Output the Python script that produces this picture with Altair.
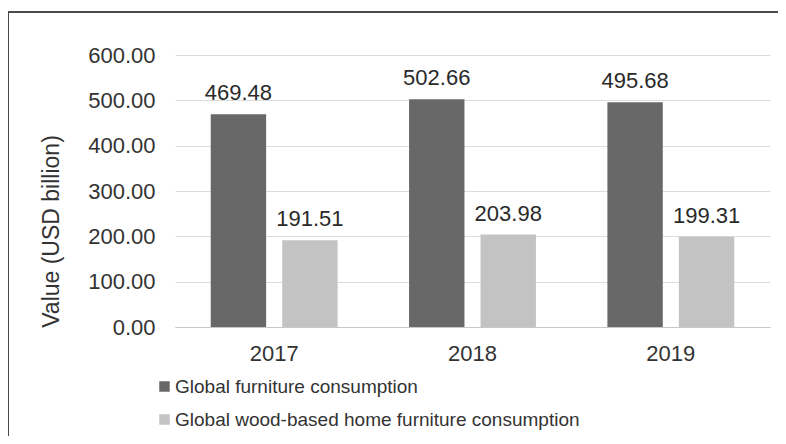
import altair as alt
import pandas as pd

years = ["2017", "2018", "2019"]
series = ["Global furniture consumption", "Global wood-based home furniture consumption"]
furniture = [469.48, 502.66, 495.68]
wood_based = [191.51, 203.98, 199.31]
y_ticks = [0, 100, 200, 300, 400, 500, 600]

rows = []
for i, yr in enumerate(years):
    rows.append({"year": yr, "series": series[0], "value": furniture[i]})
    rows.append({"year": yr, "series": series[1], "value": wood_based[i]})
df = pd.DataFrame(rows)

FONT = "Liberation Sans"
color_scale = alt.Scale(domain=series, range=["#686868", "#c3c3c3"])

x_enc = alt.X("year:N", sort=years,
              scale=alt.Scale(paddingInner=0, paddingOuter=0),
              axis=alt.Axis(title=None, labelAngle=0, ticks=False, domainColor="#c8c8c8",
                            labelFontSize=22, labelColor="#333333", labelPadding=16,
                            labelFont=FONT))
xo_enc = alt.XOffset("series:N", sort=series,
                     scale=alt.Scale(paddingInner=0.225, paddingOuter=0.5))
y_scale = alt.Scale(domain=[0, 600])

bars = alt.Chart(df).mark_bar().encode(
    x=x_enc,
    xOffset=xo_enc,
    y=alt.Y("value:Q", scale=y_scale,
            axis=alt.Axis(values=y_ticks, format=".2f", title="Value (USD billion)",
                          ticks=False, domain=False, gridColor="#dcdcdc",
                          labelFontSize=22, labelColor="#333333", labelPadding=20,
                          labelFont=FONT, titleFont=FONT, titleFontSize=23,
                          titleFontWeight="normal", titleColor="#333333",
                          titleX=-124, titleY=176, titleAngle=270,
                          titleAlign="center", titleBaseline="middle")),
    color=alt.Color("series:N", scale=color_scale, sort=series,
                    legend=alt.Legend(title=None, orient="none", legendX=-20, legendY=322,
                                      symbolType="square", symbolSize=110,
                                      symbolStrokeWidth=0, labelFontSize=19,
                                      labelFont=FONT, labelColor="#333333", labelLimit=0,
                                      labelOffset=1, rowPadding=13, direction="vertical")),
)

labels = alt.Chart(df).mark_text(baseline="middle", dy=-21, fontSize=22,
                                 font=FONT, color="#2a2a2a").encode(
    x=alt.X("year:N", sort=years),
    xOffset=alt.XOffset("series:N", sort=series),
    y=alt.Y("value:Q", scale=y_scale),
    text=alt.Text("value:Q", format=".2f"),
)

frame_df = pd.DataFrame({"a": [0]})
top_line = alt.Chart(frame_df).mark_rule(color="#4a4a4a", strokeWidth=2).encode(
    x=alt.value(-167), x2=alt.value(640), y=alt.value(-43))
left_line = alt.Chart(frame_df).mark_rule(color="#4a4a4a", strokeWidth=2).encode(
    x=alt.value(-167), y=alt.value(-43), y2=alt.value(400))

chart = alt.layer(bars, labels, top_line, left_line).properties(
    width=595, height=272,
    background="white",
    autosize=alt.AutoSizeParams(type="none"),
    padding={"left": 167, "top": 47, "right": 8, "bottom": 109},
).configure_view(stroke=None)

chart.save("out.html", embed_options={"renderer": "svg", "actions": False})
